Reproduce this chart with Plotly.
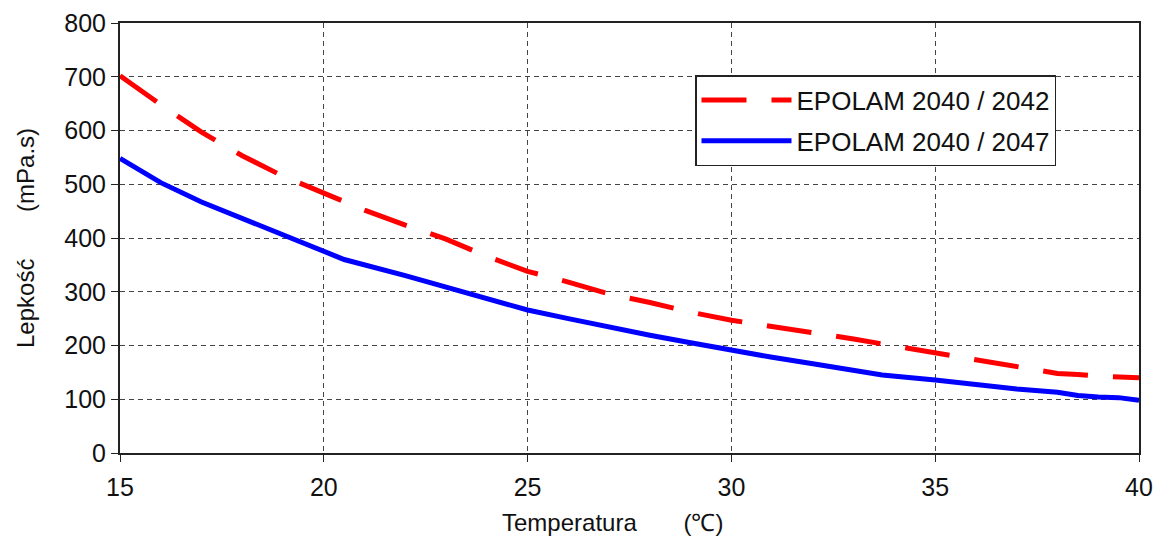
import plotly.graph_objects as go

temp_red = [15, 16, 17, 18, 19, 20, 21, 22, 23, 24, 25, 26, 27, 28, 29, 30, 31, 32, 33, 34, 35, 36, 37, 38, 38.5, 39, 40]
visc_red = [702, 648, 597, 553, 515, 483, 452, 424, 398, 366, 338, 318, 296, 280, 262, 247, 236, 224, 212, 199, 186, 173, 160, 148, 146, 143, 140]

temp_blue = [15, 16, 17, 18, 19, 20, 20.5, 22, 23, 24, 25, 26, 27, 28, 29, 30, 31, 32, 33, 33.7, 35, 36, 36.5, 37, 38, 38.5, 39, 39.5, 40]
visc_blue = [548, 503, 467, 436, 406, 375, 360, 330, 309, 287, 266, 250, 234, 219, 205, 191, 178, 166, 154, 145, 136, 128, 122, 119, 113, 107, 104, 103, 98]

x_ticks = [15, 20, 25, 30, 35, 40]
y_ticks = [0, 100, 200, 300, 400, 500, 600, 700, 800]

x_title = "Temperatura       (℃)"
y_title = "Lepkość       (mPa.s)"

FONT = "Liberation Sans, Arial, sans-serif"

fig = go.Figure()
fig.add_trace(go.Scatter(x=temp_red, y=visc_red, mode="lines", name="EPOLAM 2040 / 2042",
                         legendgroup="a",
                         line=dict(color="#ff0000", width=5, dash="45px,25px")))
fig.add_trace(go.Scatter(x=temp_blue, y=visc_blue, mode="lines", name="EPOLAM 2040 / 2047",
                         legendgroup="b",
                         line=dict(color="#0000ff", width=5)))

axis_common = dict(showline=True, linecolor="#222", linewidth=2, mirror=True,
                   showgrid=True, gridcolor="#444", griddash="5px,4px", gridwidth=1,
                   ticks="outside", ticklen=7, tickcolor="#222", zeroline=False,
                   automargin=False,
                   tickfont=dict(size=25, color="#111", family=FONT))

fig.update_xaxes(range=[15, 40], tickvals=x_ticks, ticklabelstandoff=4, **axis_common)
fig.update_yaxes(range=[0, 800], tickvals=y_ticks, **axis_common)

fig.add_annotation(text=x_title, xref="paper", yref="paper", x=(612 - 120) / 1019, y=-(522 - 453) / 430,
                   xanchor="center", yanchor="middle", showarrow=False,
                   font=dict(size=24, color="#111", family=FONT))
fig.add_annotation(text=y_title, xref="paper", yref="paper", x=-(120 - 25) / 1019, y=0.5,
                   xanchor="center", yanchor="middle", showarrow=False, textangle=-90,
                   font=dict(size=24, color="#111", family=FONT))

fig.update_layout(
    width=1156, height=540,
    margin=dict(l=120, r=17, t=23, b=87),
    plot_bgcolor="white", paper_bgcolor="white",
    font=dict(family=FONT, color="#111"),
    showlegend=True,
    legend=dict(x=(695 - 120) / 1019, y=(453 - 75) / 430, xanchor="left", yanchor="top",
                bordercolor="#222", borderwidth=1.5, bgcolor="white",
                font=dict(size=26, color="#111", family=FONT), itemwidth=90,
                tracegroupgap=4, traceorder="grouped"),
)

fig.write_html("out.html", config={"displayModeBar": False},
               post_script="document.body.style.margin='0';document.body.style.overflow='hidden';")
